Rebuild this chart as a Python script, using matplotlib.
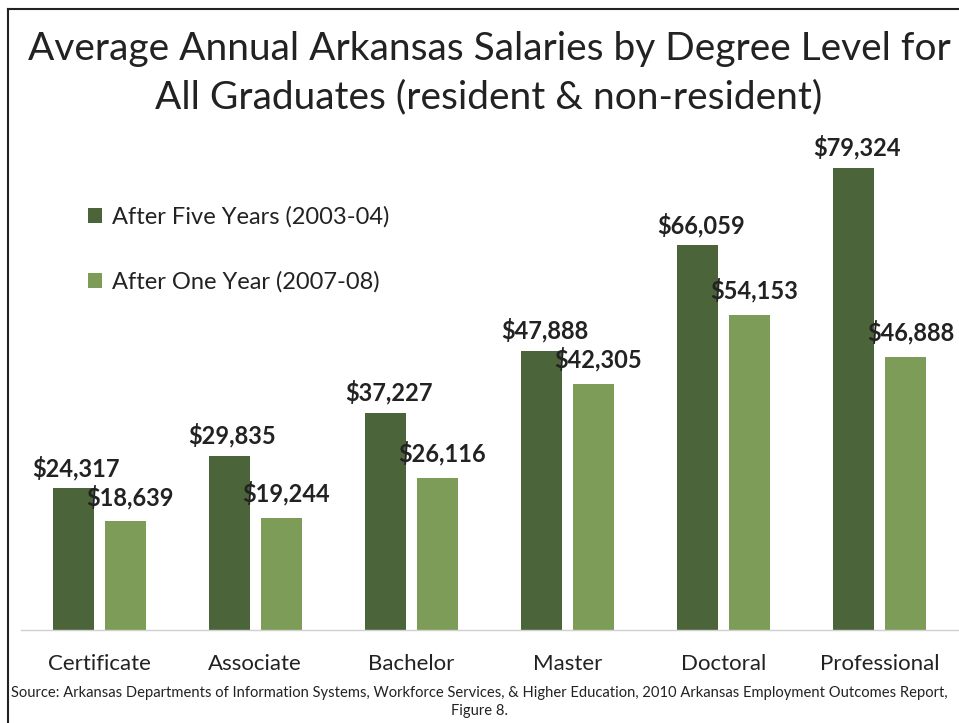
import matplotlib
matplotlib.use("Agg")
import matplotlib.pyplot as plt
import numpy as np

categories = ["Certificate", "Associate", "Bachelor", "Master", "Doctoral", "Professional"]
five_years = [24317, 29835, 37227, 47888, 66059, 79324]
one_year = [18639, 19244, 26116, 42305, 54153, 46888]
series_names = ["After Five Years (2003-04)", "After One Year (2007-08)"]
title = "Average Annual Arkansas Salaries by Degree Level for\nAll Graduates (resident & non-resident)"
source = ("Source: Arkansas Departments of Information Systems, Workforce Services, & Higher Education, "
          "2010 Arkansas Employment Outcomes Report,\nFigure 8.")

dark = "#4b6439"
light = "#7d9c58"
FONT = ["Lato", "DejaVu Sans"]

fig = plt.figure(figsize=(9.59, 7.23), dpi=100)
ax = fig.add_axes([21/959, 93/723, 937/959, 495/723])

x = np.arange(len(categories))
w = 0.263
off = 0.1667
b1 = ax.bar(x - off, five_years, w, color=dark, label=series_names[0])
b2 = ax.bar(x + off, one_year, w, color=light, label=series_names[1])

for xi, v in zip(x, five_years):
    ax.annotate(f"${v:,}", (xi - off + 0.02, v), xytext=(0, 6), textcoords="offset points",
                ha="center", va="bottom", fontsize=17, fontweight="bold", color="#222222", family=FONT)
for xi, v in zip(x, one_year):
    ax.annotate(f"${v:,}", (xi + off + 0.03, v), xytext=(0, 9), textcoords="offset points",
                ha="center", va="bottom", fontsize=17, fontweight="bold", color="#222222", family=FONT)

ax.set_xlim(-0.5, 5.5)
ax.set_ylim(0, 85000)
ax.set_yticks([])
ax.set_xticks(x)
ax.set_xticklabels(categories, fontsize=16, family=FONT, color="#222222")
ax.tick_params(axis="x", length=0, pad=17)
for s in ["top", "right", "left"]:
    ax.spines[s].set_visible(False)
ax.spines["bottom"].set_color("#d0d0d0")
ax.spines["bottom"].set_linewidth(1)

leg = fig.legend(handles=[b1, b2], labels=series_names, loc="upper left",
                 bbox_to_anchor=(67/959, 1 - 185/723), frameon=False,
                 prop={"family": FONT, "size": 17}, labelspacing=1.85,
                 handlelength=0.6, handleheight=0.6, handletextpad=0.4, labelcolor="#222222")

fig.text(489/959, 1 - 73/723, title, ha="center", va="center", fontsize=28, family=FONT,
         color="#222222", linespacing=1.4)
fig.text(0.5, 1 - 702/723, source, ha="center", va="center", fontsize=10.6, family=FONT,
         color="#222222", linespacing=1.35)

# frame lines (top and left)
fig.add_artist(plt.Line2D([8/959, 1], [1 - 9/723, 1 - 9/723], color="#222222", lw=1.5))
fig.add_artist(plt.Line2D([8/959, 8/959], [0, 1 - 9/723], color="#222222", lw=1.5))

fig.savefig("out.png", dpi=100)
